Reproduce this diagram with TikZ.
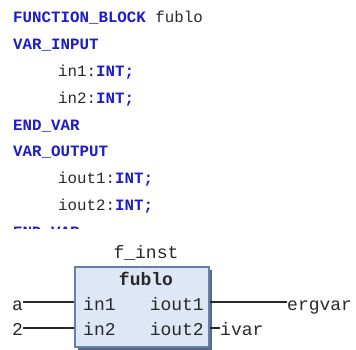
\documentclass[tikz,border=0pt]{standalone}
\usepackage{fontspec}
\setmonofont{Liberation Mono}
\usepackage{xcolor}
\usetikzlibrary{positioning, shadows}
\definecolor{kwblue}{RGB}{28,28,200}
\definecolor{txtgray}{RGB}{40,40,40}
\definecolor{boxfill}{RGB}{221,231,245}
\definecolor{boxline}{RGB}{100,128,172}
\definecolor{boxshadow}{RGB}{88,104,132}

\begin{document}
\begin{tikzpicture}[x=1pt, y=-1pt,
    kw/.style={anchor=base west, inner sep=0pt, text=kwblue, font=\ttfamily\bfseries\fontsize{15.8}{16}\selectfont},
    decl/.style={anchor=base west, inner sep=0pt, text=txtgray, font=\ttfamily\fontsize{15.8}{16}\selectfont},
    fbbox/.style={draw=boxline, line width=1.3pt, fill=boxfill, minimum width=134pt, minimum height=80pt,
        drop shadow={shadow xshift=2.5pt, shadow yshift=-2.5pt, fill=boxshadow, opacity=1}},
    sig/.style={inner sep=0pt, text=txtgray, font=\ttfamily\fontsize{18}{18}\selectfont},
    wire/.style={draw=txtgray, line width=1.2pt}
]
\useasboundingbox (0,0) rectangle (356,350);
\clip (0,0) rectangle (356,350);

% Deklaration
\begin{scope}
\clip (0,0) rectangle (356,228.5);
\node[kw] (fbhead) at (13,23) {FUNCTION\_BLOCK \textcolor{txtgray}{\mdseries fublo}};
\node[kw] (varin) at (13,49.8) {VAR\_INPUT};
\node[decl] (decl1) at (58,76.6) {in1:\textcolor{kwblue}{\bfseries INT;}};
\node[decl] (decl2) at (58,103.4) {in2:\textcolor{kwblue}{\bfseries INT;}};
\node[kw] (endin) at (13,130.2) {END\_VAR};
\node[kw] (varout) at (13,157) {VAR\_OUTPUT};
\node[decl] (decl3) at (58,183.8) {iout1:\textcolor{kwblue}{\bfseries INT;}};
\node[decl] (decl4) at (58,210.6) {iout2:\textcolor{kwblue}{\bfseries INT;}};
\node[kw] (endout) at (13,237.4) {END\_VAR};
\end{scope}

% Baustein
\node[fbbox] (fb) at (142,307) {};
\node[sig, anchor=base] (inst) at (146,258) {f\_inst};
\node[sig, anchor=base, font=\ttfamily\bfseries\fontsize{18}{18}\selectfont] (fbname) at (146,285) {fublo};
\node[sig, anchor=base west] (in1) at (83,310) {in1};
\node[sig, anchor=base west] (in2) at (83,335) {in2};
\node[sig, anchor=base east] (iout1) at (204,310) {iout1};
\node[sig, anchor=base east] (iout2) at (204,335) {iout2};

% Anschluesse
\coordinate (pin-in1) at (fb.west |- 0,302);
\coordinate (pin-in2) at (fb.west |- 0,328);
\coordinate (pin-iout1) at (fb.east |- 0,302);
\coordinate (pin-iout2) at (fb.east |- 0,328);

\node[sig, anchor=base west] (a) at (12,310) {a};
\node[sig, anchor=base west] (two) at (12,335) {2};
\node[sig, anchor=base west] (ergvar) at (287,310) {ergvar};
\node[sig, anchor=base west] (ivar) at (220,335) {ivar};

\draw[wire] (a.east |- pin-in1) -- (pin-in1);
\draw[wire] (two.east |- pin-in2) -- (pin-in2);
\draw[wire] (pin-iout1) -- (ergvar.west |- pin-iout1);
\draw[wire] (pin-iout2) -- (ivar.west |- pin-iout2);

\end{tikzpicture}
\end{document}
